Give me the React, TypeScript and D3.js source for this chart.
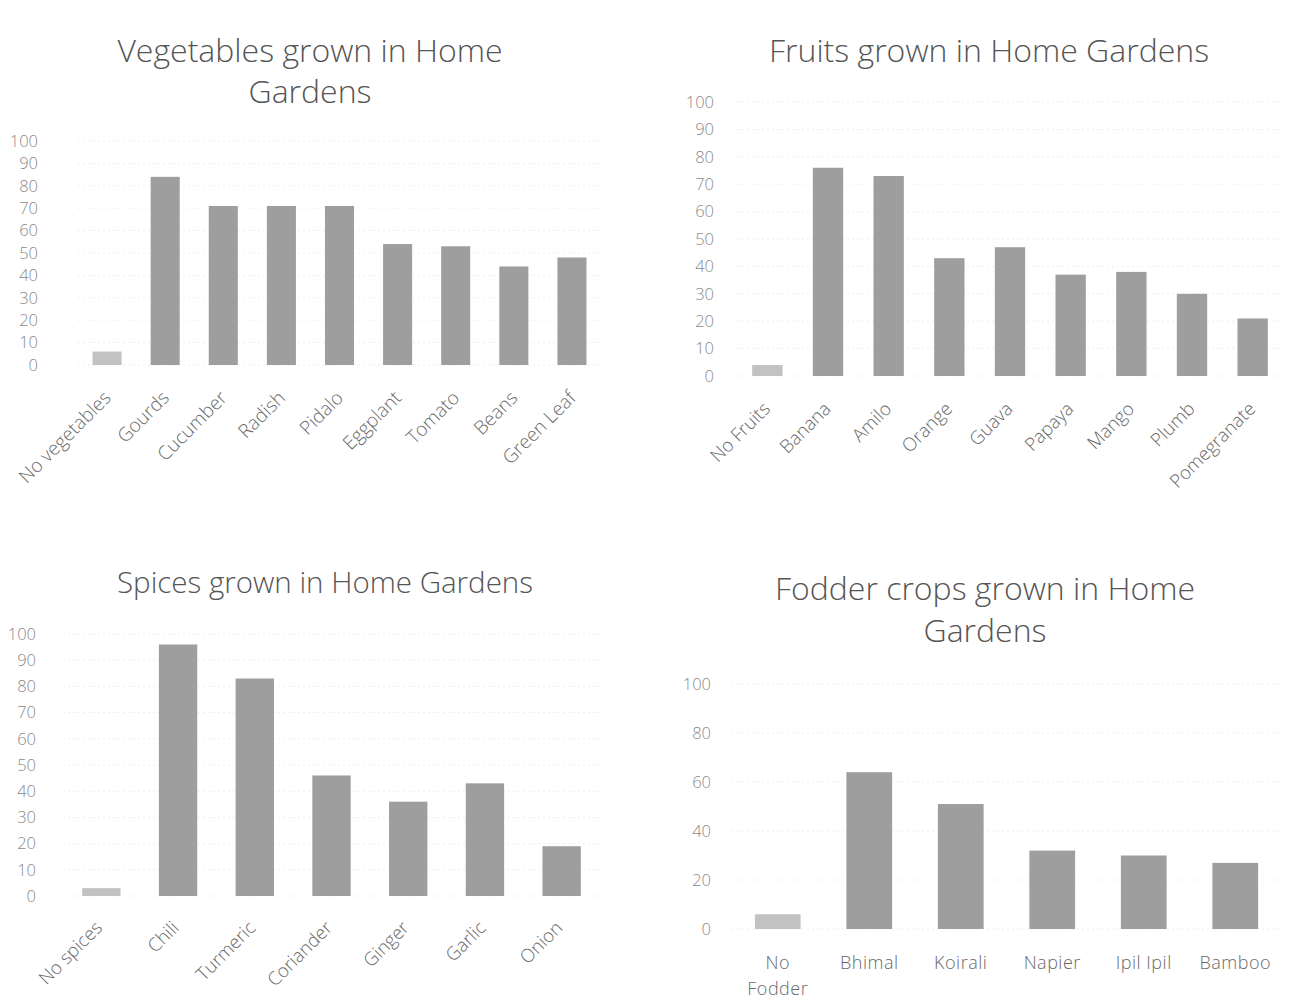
import React from "react";
import * as d3 from "d3";

// ---------- DATA ----------
const vegCategories = ["No vegetables", "Gourds", "Cucumber", "Radish", "Pidalo", "Eggplant", "Tomato", "Beans", "Green Leaf"];
const vegValues = [6, 84, 71, 71, 71, 54, 53, 44, 48];
const vegTicks = [0, 10, 20, 30, 40, 50, 60, 70, 80, 90, 100];

const fruitCategories = ["No Fruits", "Banana", "Amilo", "Orange", "Guava", "Papaya", "Mango", "Plumb", "Pomegranate"];
const fruitValues = [4, 76, 73, 43, 47, 37, 38, 30, 21];
const fruitTicks = [0, 10, 20, 30, 40, 50, 60, 70, 80, 90, 100];

const spiceCategories = ["No spices", "Chili", "Turmeric", "Coriander", "Ginger", "Garlic", "Onion"];
const spiceValues = [3, 96, 83, 46, 36, 43, 19];
const spiceTicks = [0, 10, 20, 30, 40, 50, 60, 70, 80, 90, 100];

const fodderCategories = ["No Fodder", "Bhimal", "Koirali", "Napier", "Ipil Ipil", "Bamboo"];
const fodderValues = [6, 64, 51, 32, 30, 27];
const fodderTicks = [0, 20, 40, 60, 80, 100];

const vegTitle = ["Vegetables grown in Home", "Gardens"];
const fruitTitle = ["Fruits grown in Home Gardens"];
const spiceTitle = ["Spices grown in Home Gardens"];
const fodderTitle = ["Fodder crops grown in Home", "Gardens"];

// ---------- STYLE ----------
const FONT = "'Open Sans', 'Liberation Sans', sans-serif";
const TITLE_COLOR = "#555555";
const TICK_COLOR = "#8a8a8a";
const LABEL_COLOR = "#6a6a6a";
const BAR_COLOR = "#9e9e9e";
const EMPTY_BAR_COLOR = "#c2c2c2";

type PanelProps = {
  title: string[];
  titleX: number;
  titleY: number;
  titleGap: number;
  titleSize: number;
  categories: string[];
  values: number[];
  ticks: number[];
  x0: number;
  x1: number;
  y0: number;
  y100: number;
  tickX: number;
  rotated: boolean;
  labelDx: number;
  labelDy: number;
  labelSize: number;
  wrapLabels?: boolean;
};

function Panel(p: PanelProps) {
  const x = d3.scaleBand<string>().domain(p.categories).range([p.x0, p.x1]).paddingInner(0.5).paddingOuter(0.25);
  const y = d3.scaleLinear().domain([0, 100]).range([p.y0, p.y100]);
  return (
    <g>
      {p.title.map((t, i) => (
        <text key={i} x={p.titleX} y={p.titleY + i * p.titleGap} textAnchor="middle" fontFamily={FONT} fontWeight={300} fontSize={p.titleSize} fill={TITLE_COLOR}>
          {t}
        </text>
      ))}
      {p.ticks.map((t) => (
        <g key={t}>
          <line x1={p.x0} x2={p.x1} y1={y(t)} y2={y(t)} stroke="#eeeeee" strokeDasharray="2,3" strokeWidth={1} />
          <text x={p.tickX} y={y(t)} dy="0.35em" textAnchor="end" fontFamily={FONT} fontWeight={300} fontSize={16.5} fill={TICK_COLOR}>
            {t}
          </text>
        </g>
      ))}
      {p.categories.map((c, i) => (
        <rect key={c} x={x(c)!} y={y(p.values[i])} width={x.bandwidth()} height={y(0) - y(p.values[i])} fill={i === 0 ? EMPTY_BAR_COLOR : BAR_COLOR} />
      ))}
      {p.categories.map((c) => {
        const cx = x(c)! + x.bandwidth() / 2;
        if (p.rotated) {
          const ax = cx + p.labelDx;
          const ay = p.y0 + p.labelDy;
          return (
            <text key={"l" + c} x={ax} y={ay} textAnchor="end" transform={`rotate(-45 ${ax} ${ay})`} fontFamily={FONT} fontWeight={300} fontSize={p.labelSize} fill={LABEL_COLOR}>
              {c}
            </text>
          );
        }
        const parts = p.wrapLabels && c === "No Fodder" ? ["No", "Fodder"] : [c];
        return (
          <text key={"l" + c} textAnchor="middle" fontFamily={FONT} fontWeight={300} fontSize={p.labelSize} fill={LABEL_COLOR} letterSpacing={0.5}>
            {parts.map((s, j) => (
              <tspan key={j} x={cx} y={p.y0 + p.labelDy + j * 26}>
                {s}
              </tspan>
            ))}
          </text>
        );
      })}
    </g>
  );
}

export default function App() {
  return (
    <svg width={1315} height={1001} style={{ position: "absolute", left: 0, top: 0, background: "#fff" }}>
      <rect x={0} y={0} width={1315} height={1001} fill="#fff" />
      <Panel title={vegTitle} titleX={310} titleY={62} titleGap={41} titleSize={32} categories={vegCategories} values={vegValues} ticks={vegTicks}
        x0={78} x1={601} y0={365} y100={141} tickX={38} rotated labelDx={5} labelDy={34} labelSize={19} />
      <Panel title={fruitTitle} titleX={989} titleY={62} titleGap={41} titleSize={32} categories={fruitCategories} values={fruitValues} ticks={fruitTicks}
        x0={737} x1={1283} y0={376} y100={102} tickX={714} rotated labelDx={4} labelDy={34} labelSize={18.5} />
      <Panel title={spiceTitle} titleX={325} titleY={593} titleGap={41} titleSize={29.5} categories={spiceCategories} values={spiceValues} ticks={spiceTicks}
        x0={63} x1={600} y0={896} y100={634} tickX={36} rotated labelDx={2} labelDy={33} labelSize={18.5} />
      <Panel title={fodderTitle} titleX={985} titleY={600} titleGap={42} titleSize={32} categories={fodderCategories} values={fodderValues} ticks={fodderTicks}
        x0={732} x1={1281} y0={929} y100={684} tickX={711} rotated={false} labelDx={0} labelDy={40} labelSize={18} wrapLabels />
    </svg>
  );
}
